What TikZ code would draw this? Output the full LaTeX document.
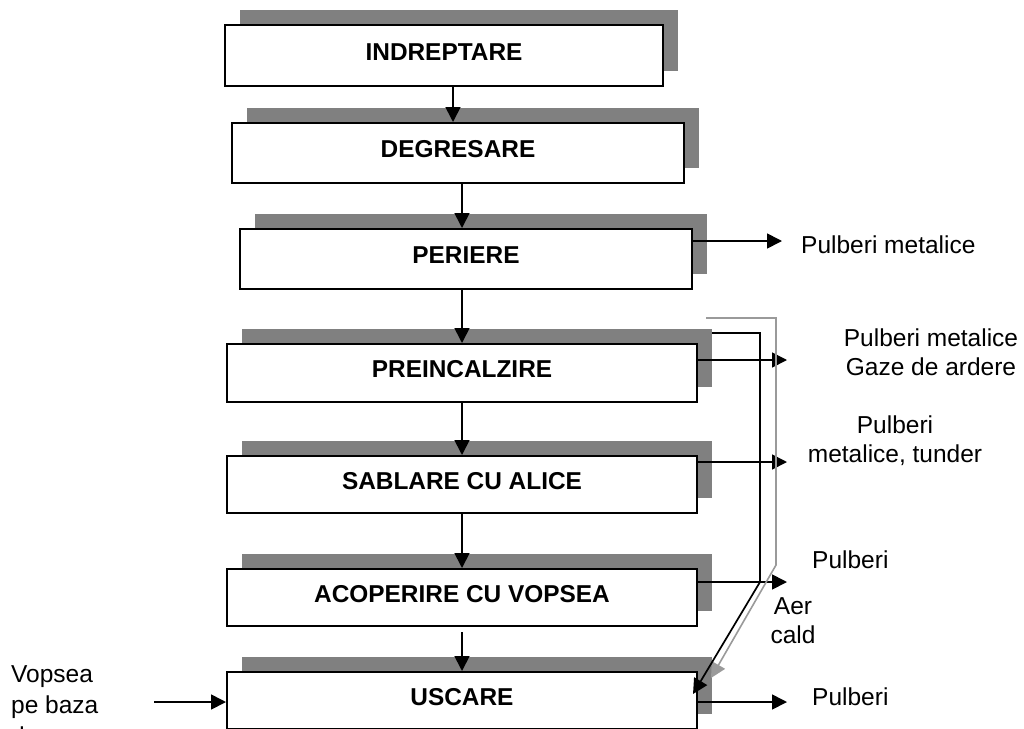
\documentclass[tikz,border=0pt]{standalone}
\usepackage{fontspec}
\setmainfont{Liberation Sans}
\usetikzlibrary{arrows.meta,shadows}
\definecolor{shadowgray}{HTML}{808080}
\definecolor{linegray}{HTML}{9A9A9A}
\begin{document}
\begin{tikzpicture}[x=1pt,y=-1pt,
  procbox/.style={draw=black, line width=2pt, fill=white, inner sep=0pt,
    font=\fontsize{24.4}{29}\selectfont\bfseries, text height=17.5pt, text depth=8pt,
    drop shadow={shadow xshift=15pt, shadow yshift=15pt, fill=shadowgray, opacity=1}},
  conn/.style={line width=1.7pt, draw=black},
  arr/.style={conn, -{Triangle[length=15pt,width=15pt]}},
  garr/.style={line width=1.6pt, draw=linegray, -{Triangle[length=15pt,width=15pt]}},
  lbl/.style={inner sep=0pt, font=\fontsize{24.5}{29}\selectfont, align=center},
]
\useasboundingbox (0,0) rectangle (1024,728);

% process boxes
\node[procbox, minimum width=438pt, minimum height=61pt] (indr) at (444,55.5) {INDREPTARE};
\node[procbox, minimum width=452pt, minimum height=60pt] (degr) at (458,153) {DEGRESARE};
\node[procbox, minimum width=452pt, minimum height=60pt] (peri) at (466,259) {PERIERE};
\node[procbox, minimum width=470pt, minimum height=58pt] (prei) at (462,373) {PREINCALZIRE};
\node[procbox, minimum width=470pt, minimum height=57pt] (sabl) at (462,484.5) {SABLARE CU ALICE};
\node[procbox, minimum width=470pt, minimum height=57pt] (acop) at (462,597.5) {ACOPERIRE CU VOPSEA};
\node[procbox, minimum width=470pt, minimum height=57pt] (usca) at (462,700.5) {USCARE};

% spine coordinates
\coordinate (sp1) at (453,0);
\coordinate (sp) at (462,0);

% main flow
\draw[arr] (indr.south -| sp1) -- (degr.north -| sp1);
\draw[arr] (degr.south -| sp) -- (peri.north -| sp);
\draw[arr] (peri.south -| sp) -- (prei.north -| sp);
\draw[arr] (prei.south -| sp) -- (sabl.north -| sp);
\draw[arr] (sabl.south -| sp) -- (acop.north -| sp);
\draw[arr] ([yshift=-5pt]acop.south -| sp) -- (usca.north -| sp);

% outputs
\coordinate (t1) at (782,241);
\coordinate (t2) at (787,360);
\coordinate (t3) at (787,462);
\coordinate (t4) at (787,582);
\coordinate (t5) at (787,702);
\draw[arr] (peri.east |- t1) -- (t1);
\draw[arr] (prei.east |- t2) -- (t2);
\draw[arr] (sabl.east |- t3) -- (t3);
\draw[arr] (acop.east |- t4) -- (t4);
\draw[arr] (usca.east |- t5) -- (t5);

% input
\coordinate (in) at (154,702);
\draw[arr] (in) -- (usca.west |- in);

% hot air feedback (grey and black)
\coordinate (g0) at (706,318);
\coordinate (g1) at (776,318);
\coordinate (g2) at (776,565);
\coordinate (gt) at (711,678);
\draw[garr] (g0) -- (g1) -- (g2) -- (gt);
\coordinate (b0) at (712,333);
\coordinate (b1) at (760,333);
\coordinate (b2) at (760,582);
\coordinate (bt) at (693,694);
\draw[arr] (b0) -- (b1) -- (b2) -- (bt);

% labels
\node[lbl, anchor=west] (l1) at (801,245) {Pulberi metalice};
\node[lbl] (l2) at (931,352) {Pulberi metalice\\Gaze de ardere};
\node[lbl] (l3) at (895,441) {Pulberi\\metalice, tunder};
\node[lbl, anchor=west] (l4) at (812,560) {Pulberi};
\node[lbl] (l5) at (793,621) {Aer\\cald};
\node[lbl, anchor=west] (l6) at (812,697) {Pulberi};
\node[lbl, align=left, anchor=north west, font=\fontsize{24.5}{31}\selectfont] (l7) at (11,665) {Vopsea\\pe baza\\de};
\end{tikzpicture}
\end{document}
